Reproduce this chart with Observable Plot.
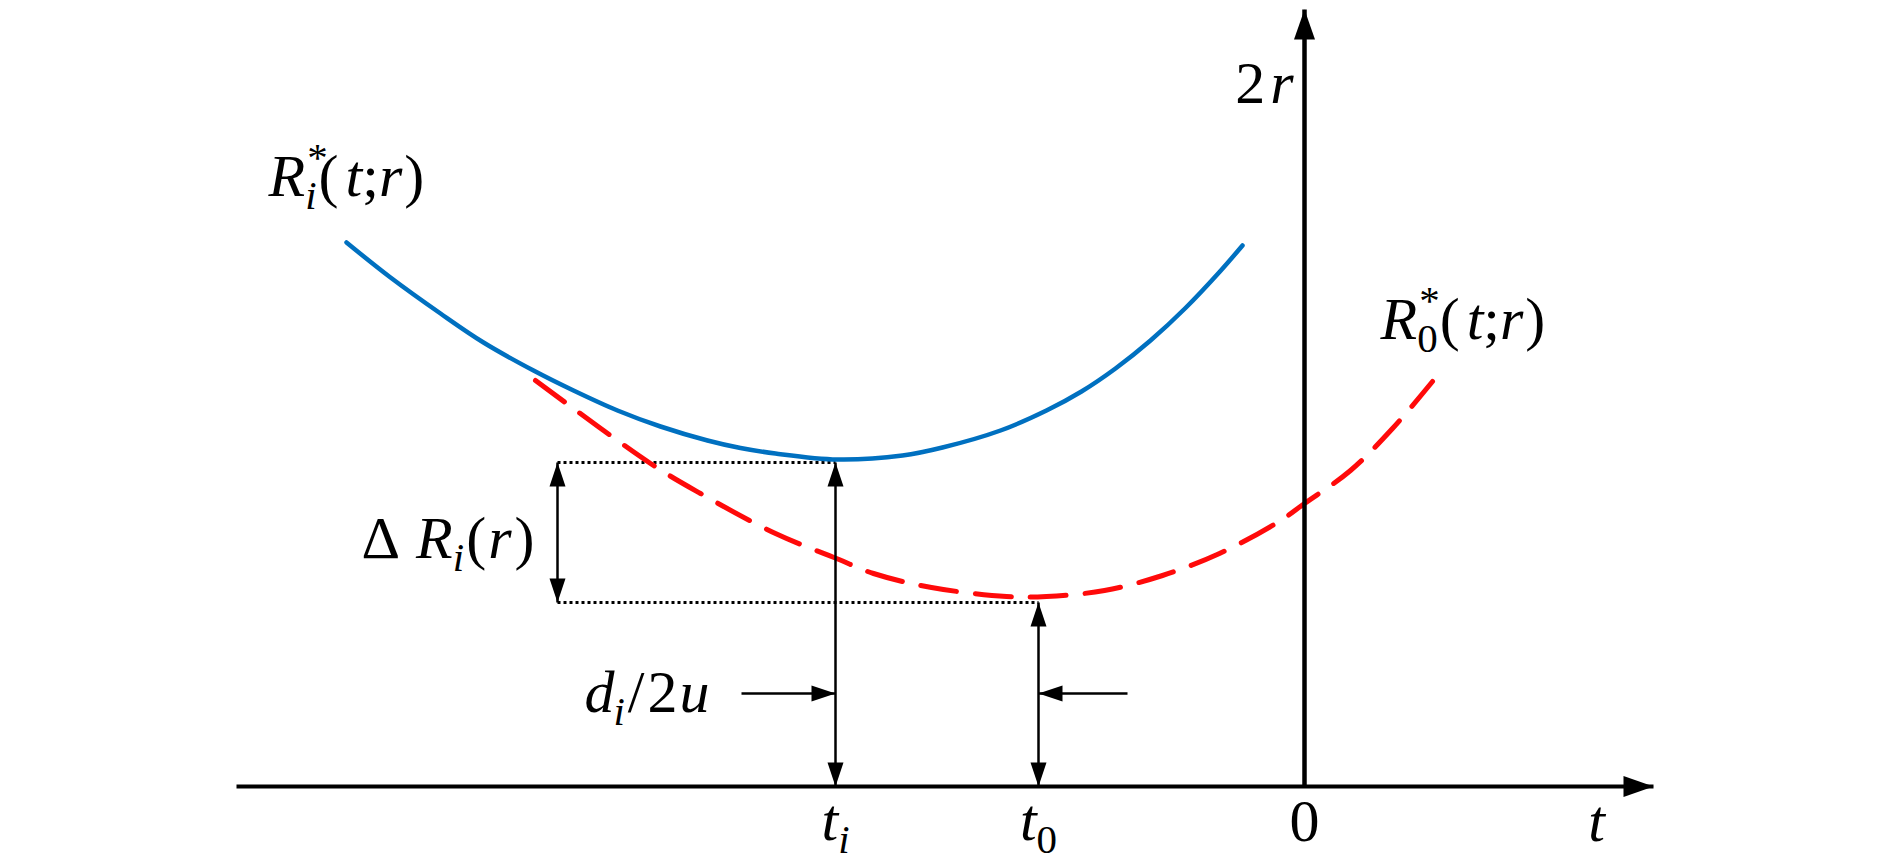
<!DOCTYPE html>
<html><head><meta charset="utf-8">
<script src="https://cdn.jsdelivr.net/npm/d3@7"></script>
<script src="https://cdn.jsdelivr.net/npm/@observablehq/plot@0.6"></script>
<style>html,body{margin:0;padding:0;background:#fff}#chart svg{display:block}</style>
</head><body><div id="chart"></div>
<script>
// ---- Data (t on the horizontal axis, 2r on the vertical axis) ----
// R_i*(t; r) : solid blue curve
const blueT = [-9.58,-9.14,-8.64,-8.21,-7.71,-7.31,-6.87,-6.44,-5.97,-5.64,-5.29,-4.67,-4.02,-3.62,-3.04,-2.58,-2.23,-1.89,-1.54,-1.19,-0.85,-0.62];
const blueR = [5.44,5.09,4.73,4.44,4.16,3.96,3.76,3.60,3.46,3.385,3.33,3.27,3.31,3.39,3.56,3.76,3.95,4.18,4.46,4.785,5.145,5.41];
// R_0*(t; r) : dashed red curve
const redT = [-7.69,-6.54,-6.04,-5.29,-4.68,-4.31,-3.73,-2.98,-2.58,-2.00,-1.42,-0.85,-0.27,0,0.46,0.88,1.28];
const redR = [4.06,3.23,2.93,2.53,2.28,2.13,1.99,1.90,1.90,1.96,2.11,2.33,2.64,2.83,3.16,3.58,4.05];

// key abscissas / levels of the construction
const tI = -4.69, t0 = -2.66;
const levelI = 3.24, level0 = 1.84;
const deltaT = -7.47;            // where the ΔR_i(r) dimension sits
const offsetLevel = 0.93;        // height of the d_i/2u arrows
const offsetFrom = [-5.63, -1.77];
const axisT = [-10.68, 3.49];    // horizontal axis extent
const axisR = [0, 7.77];         // vertical axis extent

// labels: parts = [text, italic, position(''|'sup'|'sub'), backspace, gap]
const labels = [
  {key:"Ri*(t;r)", t:-10.36, r:5.91, anchor:"start", parts:[["R",1],["*",0,"sup",0,2],["i",1,"sub",1],["(",0,"",0,2],["t",1,"",0,7],[";",0],["r",1],[")",0,"",0,2]]},
  {key:"R0*(t;r)", t:0.76, r:4.48, anchor:"start", parts:[["R",1],["*",0,"sup",0,2],["0",0,"sub",1],["(",0,"",0,2],["t",1,"",0,7],[";",0],["r",1],[")",0,"",0,2]]},
  {key:"2r", t:-0.11, r:6.84, anchor:"end", parts:[["2",0],["r",1,"",0,5]]},
  {key:"ΔRi(r)", t:-7.70, r:2.29, anchor:"end", parts:[["Δ",0],["R",1,"",0,16],["i",1,"sub"],["(",0,"",0,2],["r",1,"",0,2],[")",0,"",0,3]]},
  {key:"di/2u", t:-5.95, r:0.75, anchor:"end", parts:[["d",1],["i",1,"sub",0,-1],["/",0,"",0,3],["2",0,"",0,3],["u",1,"",0,2]]},
  {key:"ti", t:tI, r:-0.535, anchor:"middle", parts:[["t",1],["i",1,"sub"]]},
  {key:"t0", t:t0, r:-0.535, anchor:"middle", parts:[["t",1],["0",0,"sub"]]},
  {key:"0", t:0, r:-0.54, anchor:"middle", parts:[["0",0]]},
  {key:"t", t:2.92, r:-0.54, anchor:"middle", parts:[["t",1]]}
];

const blue = blueT.map((t, i) => ({t, r: blueR[i]}));
const red = redT.map((t, i) => ({t, r: redR[i]}));

// construction segments
const guides = [
  {x1:deltaT, y1:levelI, x2:tI, y2:levelI},
  {x1:deltaT, y1:level0, x2:t0, y2:level0}
];
const arrows = [
  {x1:axisT[0], y1:0, x2:axisT[1], y2:0, w:4, big:true, start:false, end:true},
  {x1:0, y1:axisR[0], x2:0, y2:axisR[1], w:4.5, big:true, start:false, end:true},
  {x1:deltaT, y1:level0, x2:deltaT, y2:levelI, w:2.5, start:true, end:true},
  {x1:tI, y1:0, x2:tI, y2:levelI, w:2.5, start:true, end:true},
  {x1:t0, y1:0, x2:t0, y2:level0, w:2.5, start:true, end:true},
  {x1:offsetFrom[0], y1:offsetLevel, x2:tI, y2:offsetLevel, w:2.5, start:false, end:true},
  {x1:offsetFrom[1], y1:offsetLevel, x2:t0, y2:offsetLevel, w:2.5, start:false, end:true}
];
const heads = [];
for (const a of arrows) {
  const dx = a.x2 - a.x1, dy = a.y2 - a.y1;
  const ang = Math.atan2(dx, dy) * 180 / Math.PI;
  if (a.end) heads.push({t:a.x2, r:a.y2, rot:ang, big:a.big});
  if (a.start) heads.push({t:a.x1, r:a.y1, rot:ang + 180, big:a.big});
}
function headSymbol(len, wid) {
  return {draw(ctx) { ctx.moveTo(0, 0); ctx.lineTo(-wid / 2, len); ctx.lineTo(wid / 2, len); ctx.closePath(); }};
}

const FONT = "'Liberation Serif', 'DejaVu Serif', serif";
const FS = 60, SFS = 41, SUP = -25, SUB = 13;

const plot = Plot.plot({
  width: 1890, height: 862,
  marginTop: 0, marginRight: 0, marginBottom: 0, marginLeft: 0,
  x: {domain: [-13.04, 5.86], axis: null},
  y: {domain: [-0.76, 7.86], axis: null},
  style: {background: "#fff"},
  marks: [
    Plot.link(guides, {x1:"x1", y1:"y1", x2:"x2", y2:"y2", stroke:"#000", strokeWidth:3, strokeDasharray:"3,3"}),
    Plot.line(red, {x:"t", y:"r", stroke:"#FF0A0A", strokeWidth:5, strokeDasharray:"36,19", curve:"catmull-rom"}),
    Plot.line(blue, {x:"t", y:"r", stroke:"#0070C0", strokeWidth:4.5, curve:"catmull-rom"}),
    Plot.link(arrows, {x1:"x1", y1:"y1", x2:"x2", y2:"y2", stroke:"#000", strokeWidth:d => d.w}),
    Plot.dot(heads.filter(d => d.big), {x:"t", y:"r", rotate:"rot", symbol:headSymbol(30, 21), fill:"#000", stroke:"none"}),
    Plot.dot(heads.filter(d => !d.big), {x:"t", y:"r", rotate:"rot", symbol:headSymbol(24, 16), fill:"#000", stroke:"none"}),
    ...labels.map(l => Plot.text([l], {x:"t", y:"r", text:"key", textAnchor:l.anchor, lineAnchor:"bottom", fontSize:FS, fontFamily:FONT, fill:"#000"}))
  ]
});

// typeset labels with italic letters, sub- and superscripts
const byKey = new Map(labels.map(l => [l.key, l]));
const NS = "http://www.w3.org/2000/svg";
plot.querySelectorAll("text").forEach(el => {
  const lab = byKey.get(el.textContent);
  if (!lab) return;
  el.textContent = "";
  el.removeAttribute("y");
  let cur = 0, prevW = 0;
  for (const [s, it, pos, back, gap] of lab.parts) {
    const ts = document.createElementNS(NS, "tspan");
    const target = pos === "sup" ? SUP : pos === "sub" ? SUB : 0;
    ts.setAttribute("dy", target - cur);
    cur = target;
    let dx = gap || 0;
    if (back) dx -= prevW;
    if (dx) ts.setAttribute("dx", dx);
    ts.setAttribute("font-size", pos ? SFS : FS);
    ts.setAttribute("font-style", it ? "italic" : "normal");
    ts.textContent = s;
    el.appendChild(ts);
    prevW = pos === "sup" ? SFS * 0.5 * s.length + (gap || 0) : 0;
  }
});

document.getElementById("chart").appendChild(plot);
</script>
</body></html>
